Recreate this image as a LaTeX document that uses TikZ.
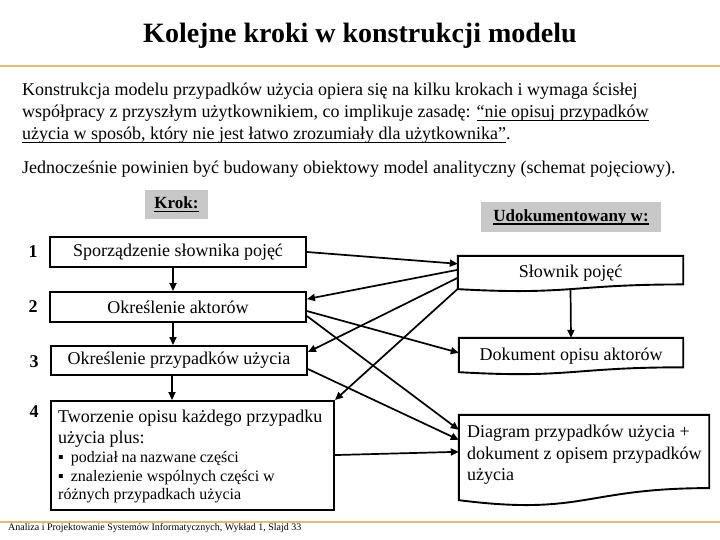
\documentclass[tikz,border=0pt]{standalone}
\usepackage{fontspec}
\setmainfont{Liberation Serif}
\usetikzlibrary{arrows.meta,calc}
\definecolor{rulecol}{RGB}{230,184,115}
\definecolor{hdrgray}{RGB}{200,200,200}
\newcommand\myul[1]{\setbox0\hbox{#1}\rlap{\rule[-3.5pt]{\wd0}{1.6pt}}\box0}
\newcommand\fs[1]{\fontsize{#1}{#1}\selectfont}
\newcommand\docpath[1]{\draw[line width=1.9pt] (#1.north west) -- (#1.north east) -- ($(#1.north east)!0.802!(#1.south east)$) .. controls ($(#1.north)!0.802!(#1.south)$) and ($(#1.north)!1.108!(#1.south)$) .. ($(#1.north west)!0.934!(#1.south west)$) -- cycle;}
\begin{document}
\begin{tikzpicture}[x=1pt,y=-1pt,
  box/.style={draw,line width=1.9pt,inner sep=0pt,font=\fs{18}},
  lbl/.style={inner sep=0pt,font=\fs{18}},
  arr/.style={line width=1.7pt,-{Triangle[length=8pt,width=7pt]}},
  hdrbox/.style={fill=hdrgray,inner sep=0pt,font=\fs{17}\bfseries},
  docn/.style={inner sep=0pt,font=\fs{18}},
  orule/.style={rulecol,line width=1.5pt}]
\useasboundingbox (0,0) rectangle (720,540);
\fill[white] (0,0) rectangle (720,540);
% title
\node[anchor=base,inner sep=0pt,font=\fs{28}\bfseries] (title) at (360,43) {Kolejne kroki w konstrukcji modelu};
\draw[orule] (0,66) -- (720,66);
% paragraph
\node[lbl,anchor=base west] (p1) at (22,95.5) {Konstrukcja modelu przypadków użycia opiera się na kilku krokach i wymaga ścisłej};
\node[lbl,anchor=base west] (p2) at (22,118) {współpracy z przyszłym użytkownikiem, co implikuje zasadę: \myul{“nie opisuj przypadków}};
\node[lbl,anchor=base west] (p3) at (22,140) {\myul{użycia w sposób, który nie jest łatwo zrozumiały dla użytkownika”}.};
\node[lbl,anchor=base west] (p4) at (22,174) {Jednocześnie powinien być budowany obiektowy model analityczny (schemat pojęciowy).};
% headers
\node[hdrbox,minimum width=63pt,minimum height=29pt] (krok) at (176.5,204.5) {\myul{Krok:}};
\node[hdrbox,minimum width=180pt,minimum height=30pt] (udok) at (571,217) {\myul{Udokumentowany w:}};
% left boxes
\node[box,minimum width=256pt,minimum height=30pt] (b1) at (178,252) {Sporządzenie słownika pojęć};
\node[box,minimum width=256pt,minimum height=30pt] (b2) at (178,307) {Określenie aktorów};
\node[box,minimum width=256pt,minimum height=29pt] (b3) at (179,360.5) {Określenie przypadków użycia};
\node[box,minimum width=283pt,minimum height=109pt] (b4) at (192.5,455.5) {};
\node[lbl,font=\fs{18}\bfseries] (n1) at (33,252) {1};
\node[lbl,font=\fs{18}\bfseries] (n2) at (33,307) {2};
\node[lbl,font=\fs{18}\bfseries] (n3) at (34,362) {3};
\node[lbl,font=\fs{18}\bfseries] (n4) at (34,412) {4};
\node[lbl,anchor=base west] (t4a) at (58,422) {Tworzenie opisu każdego przypadku};
\node[lbl,anchor=base west] (t4b) at (58,443) {użycia plus:};
\node[lbl,anchor=base west,font=\fs{16}] (t4c) at (58,462) {▪\hspace{7pt}\makebox[168pt][s]{podział na nazwane części}};
\node[lbl,anchor=base west,font=\fs{16}] (t4d) at (58,481) {▪\hspace{7pt}znalezienie wspólnych części w};
\node[lbl,anchor=base west,font=\fs{16}] (t4e) at (58,499) {różnych przypadkach użycia};
% right documents
\node[docn,minimum width=225pt,minimum height=35.3pt] (slow) at (570.5,273.65) {Słownik pojęć};
\node[docn,minimum width=224pt,minimum height=36.4pt] (dok) at (571,356.2) {Dokument opisu aktorów};
\node[docn,minimum width=250pt,minimum height=91pt] (diag) at (584,460.5) {};
\docpath{slow}
\docpath{dok}
\docpath{diag}
\node[lbl,anchor=base west] (d1) at (467,437) {Diagram przypadków użycia +};
\node[lbl,anchor=base west] (d2) at (467,459) {dokument z opisem przypadków};
\node[lbl,anchor=base west] (d3) at (467,480) {użycia};
% arrows
\draw[arr] (b1.east) -- ($(slow.north west)+(0,8)$);
\draw[arr] ($(slow.north west)+(0,14)$) -- ($(b2.north east)+(0,8)$);
\draw[arr] ($(b2.north east)+(0,20)$) -- ($(dok.north west)+(0,15)$);
\draw[arr] ($(b2.north east)+(0,25)$) -- ($(diag.north west)+(0,15)$);
\draw[arr] ($(slow.north west)+(0,22)$) -- ($(b3.north east)+(0,7)$);
\draw[arr] ($(slow.north west)+(0,33)$) -- (b4.north east);
\draw[arr] ($(b3.north east)+(0,24)$) -- ($(diag.north west)+(0,25)$);
\draw[arr] ($(b4.north east)+(0,55)$) -- ($(diag.north west)+(0,37)$);
\draw[arr] ($(b1.south)+(-5,0)$) -- ($(b2.north)+(-5,0)$);
\draw[arr] ($(b2.south)+(-5,0)$) -- ($(b3.north)+(-6,0)$);
\draw[arr] ($(b3.south)+(-7,0)$) -- ($(b4.north)+(-20.5,0)$);
\draw[arr] ($(slow.north)+(0,33)$) -- (dok.north);
% footer
\draw[orule] (0,522) -- (720,522);
\node[lbl,anchor=base west,font=\fs{10}] (foot) at (8,530) {Analiza i Projektowanie Systemów Informatycznych, Wykład 1, Slajd 33};
\end{tikzpicture}
\end{document}
